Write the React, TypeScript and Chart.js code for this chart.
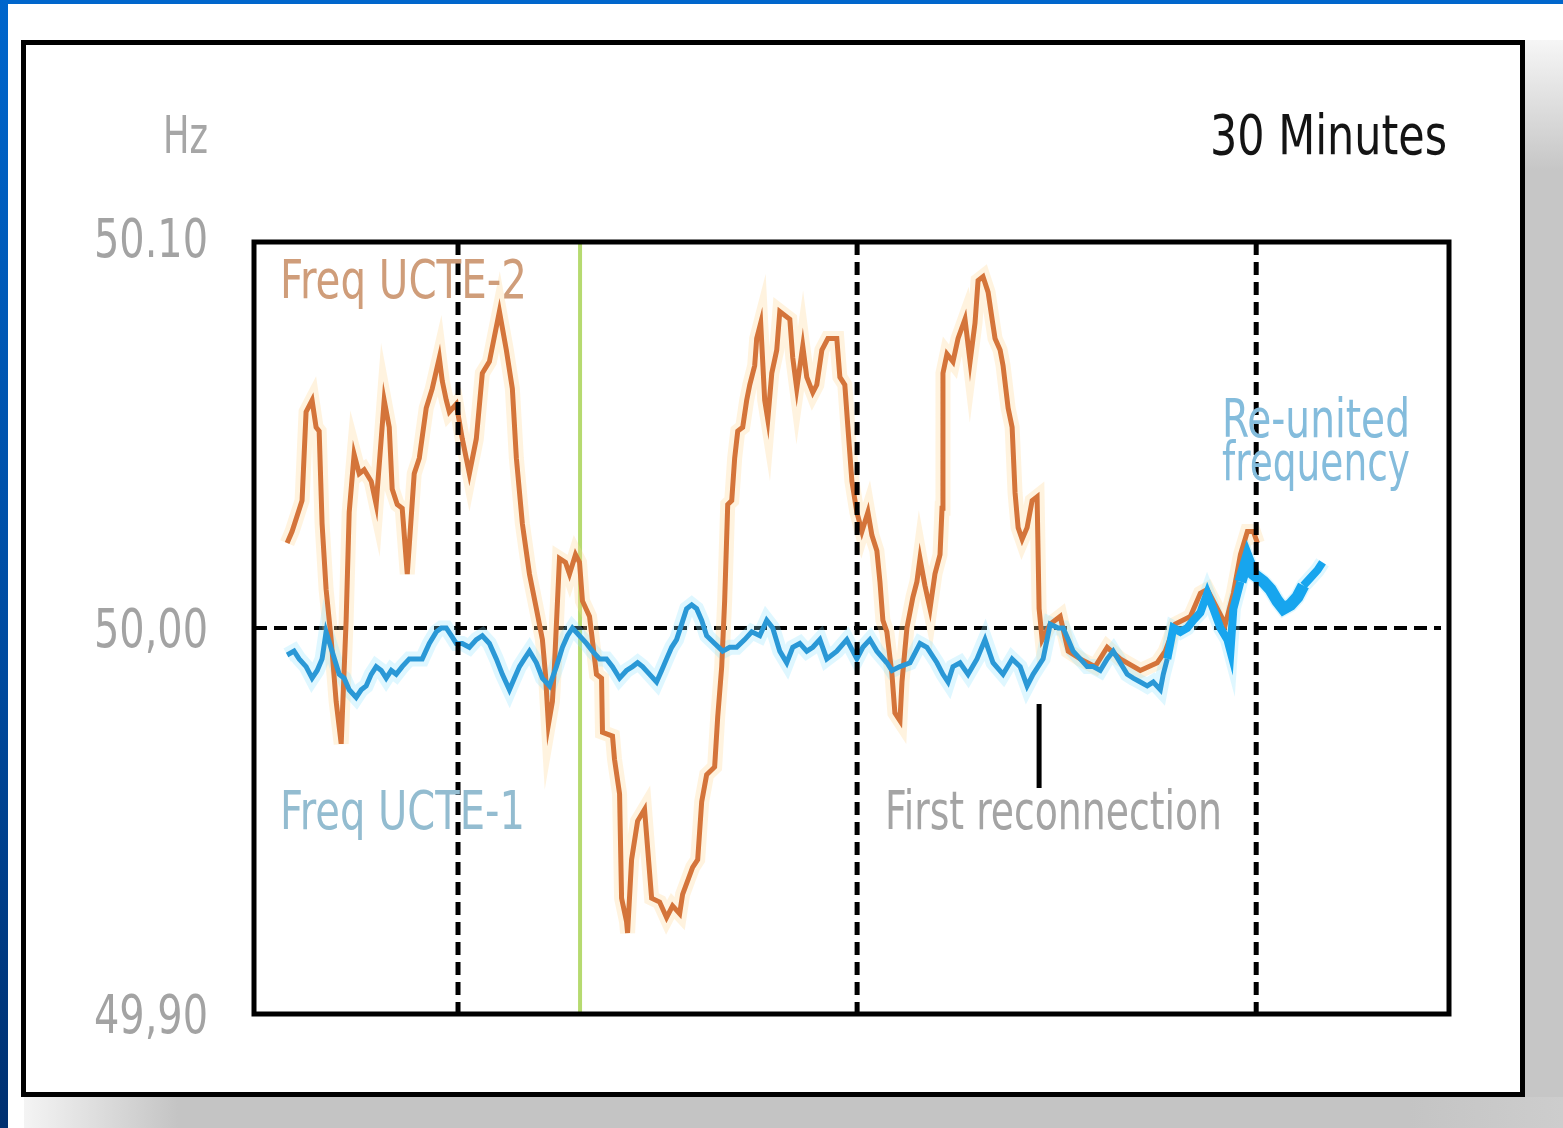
import React, { useEffect, useRef } from 'react';
import { Chart, registerables } from 'chart.js';

Chart.register(...registerables);

// ---- axis ----
const yTickValues = [49.9, 50.0, 50.1];
const yTickLabels = ['49,90', '50,00', '50.10'];
const xMin = 0;
const xMax = 89.5; // minutes
const thirtyMinuteMarks = [15.28, 45.17, 75.06];
const splitTime = 24.42;
const reconnectTime = 58.8;
const nominalHz = 50.0;

// ---- Freq UCTE-2 (orange) ----
const orangeTime = [
  2.48, 2.85, 3.6, 3.9, 4.35, 4.65, 4.88, 5.1, 5.4, 5.78, 6.15, 6.53, 6.9, 7.13, 7.5, 7.88, 8.25, 8.78, 9.15,
  9.75, 10.13, 10.35, 10.73, 11.1, 11.48, 12.0, 12.38, 12.9, 13.35, 13.88, 14.1, 14.4, 14.63, 15.15, 15.6,
  16.13, 16.65, 17.1, 17.63, 18.38, 18.9, 19.35, 19.65, 20.1, 20.63, 21.15, 21.6, 21.83, 22.05, 22.35, 22.5,
  22.88, 23.33, 23.63, 24.08, 24.38, 24.6, 25.13, 25.65, 26.03, 26.1, 26.85, 27.0, 27.38, 27.53, 27.9, 27.98,
  28.28, 28.73, 29.25, 29.48, 29.78, 30.38, 30.9, 31.35, 31.88, 32.1, 32.85, 33.23, 33.53, 33.9, 34.5, 34.73,
  35.03, 35.25, 35.48, 35.78, 36.0, 36.23, 36.6, 36.9, 37.13, 37.5, 37.65, 37.95, 38.25, 38.48, 38.78, 39.15,
  39.38, 40.13, 40.35, 40.65, 41.1, 41.4, 41.85, 42.15, 42.53, 42.98, 43.65, 43.88, 44.25, 44.48, 44.78,
  45.15, 45.53, 45.98, 46.28, 46.65, 46.88, 47.1, 47.4, 47.78, 48.0, 48.38, 48.53, 48.9, 49.35, 49.65, 49.88,
  50.25, 50.63, 51.0, 51.38, 51.53, 51.6, 51.9, 52.35, 52.73, 53.25, 53.63, 54.0, 54.23, 54.6, 54.98, 55.28,
  55.5, 55.88, 56.1, 56.48, 56.78, 57.0, 57.23, 57.53, 57.9, 58.28, 58.65, 58.8, 59.03, 59.63, 60.38, 60.98,
  61.88, 63.0, 63.9, 64.88, 66.38, 67.65, 68.25, 69.0, 70.13, 70.88, 71.4, 72.0, 72.75, 73.35, 73.88, 74.4,
  74.85, 75.15,
];
const orangeHz = [
  50.022, 50.025, 50.033, 50.056, 50.059, 50.052, 50.051, 50.027, 50.01, 49.997, 49.981, 49.97, 50.002, 50.03,
  50.045, 50.04, 50.041, 50.038, 50.032, 50.059, 50.052, 50.036, 50.032, 50.031, 50.014, 50.04, 50.044, 50.057,
  50.062, 50.07, 50.064, 50.059, 50.056, 50.058, 50.049, 50.04, 50.049, 50.066, 50.069, 50.082, 50.072, 50.062,
  50.044, 50.027, 50.014, 50.005, 49.997, 49.988, 49.975, 49.981, 49.99, 50.018, 50.017, 50.014, 50.019, 50.017,
  50.007, 50.003, 49.988, 49.987, 49.973, 49.972, 49.966, 49.957, 49.93, 49.924, 49.921, 49.94, 49.95, 49.953,
  49.943, 49.93, 49.929, 49.925, 49.928, 49.926, 49.931, 49.938, 49.94, 49.955, 49.962, 49.964, 49.977, 49.99,
  50.007, 50.032, 50.033, 50.044, 50.051, 50.052, 50.059, 50.063, 50.068, 50.075, 50.079, 50.059, 50.054,
  50.066, 50.072, 50.082, 50.08, 50.07, 50.062, 50.073, 50.065, 50.061, 50.063, 50.072, 50.075, 50.075, 50.065,
  50.063, 50.052, 50.038, 50.03, 50.025, 50.03, 50.024, 50.02, 50.012, 50.002, 49.999, 49.988, 49.978, 49.976,
  49.986, 50.0, 50.008, 50.012, 50.018, 50.011, 50.005, 50.014, 50.019, 50.031, 50.066, 50.071, 50.069, 50.075,
  50.08, 50.069, 50.079, 50.09, 50.091, 50.087, 50.08, 50.075, 50.072, 50.068, 50.057, 50.052, 50.035, 50.026,
  50.023, 50.026, 50.033, 50.034, 50.005, 49.997, 50.001, 50.003, 49.994, 49.992, 49.99, 49.995, 49.992, 49.989,
  49.991, 49.994, 50.001, 50.003, 50.009, 50.01, 50.006, 50.001, 50.009, 50.019, 50.025, 50.025, 50.022,
];

// ---- Freq UCTE-1 / re-united (blue) ----
const blueTime = [
  2.48, 3.0, 3.38, 3.9, 4.35, 4.73, 5.1, 5.4, 5.85, 6.38, 6.75, 7.13, 7.65, 8.03, 8.4, 8.78, 9.15, 9.53, 9.9,
  10.28, 10.65, 11.1, 11.63, 12.15, 12.6, 13.13, 13.65, 14.03, 14.4, 14.78, 15.15, 15.6, 16.13, 16.65, 17.1,
  17.63, 18.15, 18.6, 19.13, 19.5, 19.88, 20.25, 20.63, 21.15, 21.6, 22.13, 22.65, 23.1, 23.48, 23.85, 24.38,
  24.9, 25.35, 25.88, 26.4, 26.85, 27.38, 27.9, 28.35, 28.73, 29.1, 29.63, 30.15, 30.53, 30.9, 31.28, 31.65,
  32.03, 32.4, 32.78, 33.15, 33.53, 33.9, 34.5, 35.1, 35.63, 36.15, 36.75, 37.28, 37.88, 38.4, 38.85, 39.38,
  39.9, 40.35, 40.88, 41.4, 41.85, 42.38, 42.9, 43.65, 44.4, 45.15, 45.6, 46.13, 46.65, 47.4, 47.78, 48.38,
  49.13, 49.88, 50.4, 51.15, 51.6, 51.98, 52.35, 52.88, 53.48, 54.15, 54.75, 55.35, 56.1, 56.78, 57.38, 57.9,
  58.35, 59.1, 59.63, 60.23, 60.6, 60.98, 61.35, 61.88, 62.4, 62.85, 63.38, 63.9, 64.35, 64.88, 65.4, 65.85,
  66.38, 66.9, 67.35, 67.88, 68.1, 68.4, 68.85, 69.38, 69.9, 70.35, 70.88, 71.4, 71.85, 72.38, 72.9, 73.13,
  73.35, 73.88, 74.4, 74.85, 75.6, 76.13, 76.65, 77.1, 77.63, 78.15, 78.6, 79.13, 79.65, 80.03,
];
const blueHz = [
  49.993, 49.994, 49.992, 49.99, 49.987, 49.989, 49.992, 49.999, 49.994, 49.988, 49.987, 49.984, 49.982, 49.984,
  49.985, 49.988, 49.99, 49.989, 49.987, 49.989, 49.988, 49.99, 49.992, 49.992, 49.992, 49.996, 49.999, 50.0,
  50.0, 49.998, 49.996, 49.996, 49.995, 49.997, 49.998, 49.996, 49.992, 49.988, 49.984, 49.987, 49.99, 49.992,
  49.994, 49.991, 49.987, 49.985, 49.99, 49.995, 49.998, 50.0, 49.998, 49.996, 49.994, 49.992, 49.992, 49.99,
  49.987, 49.989, 49.99, 49.991, 49.99, 49.988, 49.986, 49.989, 49.992, 49.995, 49.997, 50.001, 50.005, 50.006,
  50.005, 50.002, 49.998, 49.996, 49.994, 49.995, 49.995, 49.997, 49.999, 49.998, 50.002, 50.0, 49.994, 49.991,
  49.995, 49.996, 49.994, 49.995, 49.997, 49.992, 49.994, 49.997, 49.992, 49.995, 49.997, 49.994, 49.991,
  49.989, 49.99, 49.991, 49.996, 49.995, 49.991, 49.988, 49.986, 49.99, 49.991, 49.988, 49.992, 49.997, 49.991,
  49.988, 49.992, 49.99, 49.985, 49.988, 49.992, 50.001, 50.0, 50.0, 49.997, 49.994, 49.992, 49.99, 49.99,
  49.989, 49.992, 49.994, 49.991, 49.988, 49.987, 49.986, 49.985, 49.986, 49.984, 49.988, 49.992, 50.0, 49.999,
  50.0, 50.002, 50.004, 50.009, 50.005, 50.0, 49.997, 49.994, 50.005, 50.012, 50.018, 50.014, 50.012, 50.01,
  50.007, 50.005, 50.006, 50.008, 50.011, 50.013, 50.015, 50.017,
];

const toPoints = (t: number[], v: number[]) => t.map((x, i) => ({ x, y: v[i] }));

function drawText(
  ctx: CanvasRenderingContext2D,
  text: string,
  x: number,
  y: number,
  opts: { width?: number; sx?: number; font: string; color: string; alignRight?: boolean }
) {
  ctx.save();
  ctx.font = opts.font;
  ctx.fillStyle = opts.color;
  ctx.textAlign = 'left';
  ctx.textBaseline = 'alphabetic';
  const m = ctx.measureText(text).width || 1;
  const s = opts.width ? opts.width / m : opts.sx || 1;
  ctx.translate(opts.alignRight ? x - m * s : x, y);
  ctx.scale(s, 1);
  ctx.fillText(text, 0, 0);
  ctx.restore();
}

const FONT = "'Liberation Sans Narrow', 'DejaVu Sans Condensed', 'Liberation Sans', sans-serif";

const overlayPlugin = {
  id: 'overlay',
  beforeDatasetsDraw(chart: any) {
    const { ctx, chartArea: a, scales } = chart;
    const x = scales.x;
    const y = scales.y;
    ctx.save();
    // split moment (green)
    const gx = x.getPixelForValue(splitTime);
    ctx.strokeStyle = '#b6da70';
    ctx.lineWidth = 4;
    ctx.beginPath();
    ctx.moveTo(gx, a.top);
    ctx.lineTo(gx, a.bottom);
    ctx.stroke();
    // nominal 50.00 Hz dashed
    const hy = y.getPixelForValue(nominalHz);
    ctx.strokeStyle = '#000';
    ctx.lineWidth = 4;
    ctx.setLineDash([13, 7]);
    ctx.beginPath();
    ctx.moveTo(a.left, hy);
    ctx.lineTo(a.right - 8, hy);
    ctx.stroke();
    ctx.restore();
  },
  afterDatasetsDraw(chart: any) {
    const { ctx, chartArea: a, scales } = chart;
    const x = scales.x;
    const y = scales.y;
    ctx.save();
    // 30-minute markers
    ctx.strokeStyle = '#000';
    ctx.lineWidth = 5;
    ctx.setLineDash([13, 7]);
    thirtyMinuteMarks.forEach((t) => {
      const px = x.getPixelForValue(t);
      ctx.beginPath();
      ctx.moveTo(px, a.top);
      ctx.lineTo(px, a.bottom);
      ctx.stroke();
    });
    ctx.setLineDash([]);
    // reconnection pointer
    const rx = x.getPixelForValue(reconnectTime);
    ctx.lineWidth = 5;
    ctx.beginPath();
    ctx.moveTo(rx, a.top + 462);
    ctx.lineTo(rx, a.top + 546);
    ctx.stroke();
    // frame
    ctx.lineWidth = 5;
    ctx.strokeRect(a.left, a.top, a.right - a.left, a.bottom - a.top);
    ctx.restore();

    // y tick labels from the scale's ticks
    y.ticks.forEach((tk: any, i: number) => {
      const py = y.getPixelForValue(tk.value);
      drawText(ctx, yTickLabels[i], a.left - 46, py + (i === 2 ? 15 : 19), {
        sx: 0.82,
        font: `54px ${FONT}`,
        color: '#a3a3a3',
        alignRight: true,
      });
    });

    // texts
    const L = a.left;
    const T = a.top;
    drawText(ctx, 'Hz', L - 91, T - 89, { width: 45, font: `52px ${FONT}`, color: '#a6a6a6' });
    drawText(ctx, '30 Minutes', L + 956, T - 88, { width: 237, font: `56px ${FONT}`, color: '#141414' });
    drawText(ctx, 'Freq UCTE-2', L + 26, T + 56, { width: 247, font: `54px ${FONT}`, color: '#cf9d7a' });
    drawText(ctx, 'Freq UCTE-1', L + 26, T + 587, { width: 245, font: `54px ${FONT}`, color: '#93bcd0' });
    drawText(ctx, 'First reconnection', L + 631, T + 587, { width: 337, font: `54px ${FONT}`, color: '#a4a4a4' });
    drawText(ctx, 'Re-united', L + 968, T + 195, { width: 188, font: `54px ${FONT}`, color: '#84bcdc' });
    drawText(ctx, 'frequency', L + 968, T + 238, { width: 188, font: `54px ${FONT}`, color: '#84bcdc' });
  },
};

export default function App() {
  const canvasRef = useRef<HTMLCanvasElement | null>(null);

  useEffect(() => {
    if (!canvasRef.current) return;
    const orange = toPoints(orangeTime, orangeHz);
    const blue = toPoints(blueTime, blueHz);
    const chart = new Chart(canvasRef.current, {
      type: 'line',
      data: {
        datasets: [
          {
            label: 'Freq UCTE-1',
            data: blue,
            borderColor: '#2a98d6',
            borderWidth: 5,
            pointRadius: 0,
            tension: 0,
            order: 0,
            segment: {
              borderWidth: (c: any) => {
                const t = c.p0.parsed.x;
                if (t >= 73.8 && t < 78.3) return 12;
                if (t >= 68.3) return 8;
                return 5;
              },
              borderColor: (c: any) => (c.p0.parsed.x >= 68.3 ? '#17a5ee' : '#2a98d6'),
            },
          },
          {
            label: 'Freq UCTE-2',
            data: orange,
            borderColor: '#d4743a',
            borderWidth: 5,
            pointRadius: 0,
            tension: 0,
            order: 1,
          },
          {
            label: 'halo-blue',
            data: blue,
            borderColor: 'rgba(140,225,255,0.28)',
            borderWidth: 15,
            pointRadius: 0,
            tension: 0,
            order: 2,
          },
          {
            label: 'halo-orange',
            data: orange,
            borderColor: 'rgba(255,215,150,0.30)',
            borderWidth: 15,
            pointRadius: 0,
            tension: 0,
            order: 3,
          },
        ],
      },
      options: {
        animation: false,
        responsive: false,
        devicePixelRatio: 1,
        layout: { padding: { left: 0, top: 242, right: 114, bottom: 114 } },
        plugins: { legend: { display: false }, tooltip: { enabled: false } },
        scales: {
          x: { type: 'linear', min: xMin, max: xMax, display: false },
          y: {
            type: 'linear',
            min: 49.9,
            max: 50.1,
            afterBuildTicks: (s: any) => {
              s.ticks = yTickValues.map((v) => ({ value: v }));
            },
            afterFit: (s: any) => {
              s.width = 254;
            },
            grid: { display: false, drawTicks: false },
            border: { display: false },
            ticks: { display: false },
          },
        },
      },
      plugins: [overlayPlugin],
    });
    return () => chart.destroy();
  }, []);

  return (
    <div
      style={{
        position: 'absolute',
        left: 0,
        top: 0,
        width: 1563,
        height: 1128,
        background: '#ffffff',
        overflow: 'hidden',
      }}
    >
      <div style={{ position: 'absolute', left: 0, top: 0, width: 1563, height: 4, background: '#0066cc' }} />
      <div
        style={{
          position: 'absolute',
          left: 0,
          top: 0,
          width: 8,
          height: 1128,
          background: 'linear-gradient(to bottom, #0066cc, #004a9e 60%, #003070)',
        }}
      />
      <div
        style={{
          position: 'absolute',
          left: 1525,
          top: 40,
          width: 38,
          height: 1088,
          background: 'linear-gradient(to bottom, #f6f6f6, #c6c6c6 12%, #c6c6c6 100%)',
        }}
      />
      <div
        style={{
          position: 'absolute',
          left: 24,
          top: 1097,
          width: 1539,
          height: 31,
          background: 'linear-gradient(to right, #f4f4f4, #c4c4c4 10%, #c4c4c4 90%, #cdcdcd)',
        }}
      />
      <div
        style={{
          position: 'absolute',
          left: 21,
          top: 40,
          width: 1504,
          height: 1057,
          boxSizing: 'border-box',
          border: '5px solid #000',
          background: '#ffffff',
        }}
      />
      <canvas
        ref={canvasRef}
        width={1563}
        height={1128}
        style={{ position: 'absolute', left: 0, top: 0, width: 1563, height: 1128 }}
      />
    </div>
  );
}
